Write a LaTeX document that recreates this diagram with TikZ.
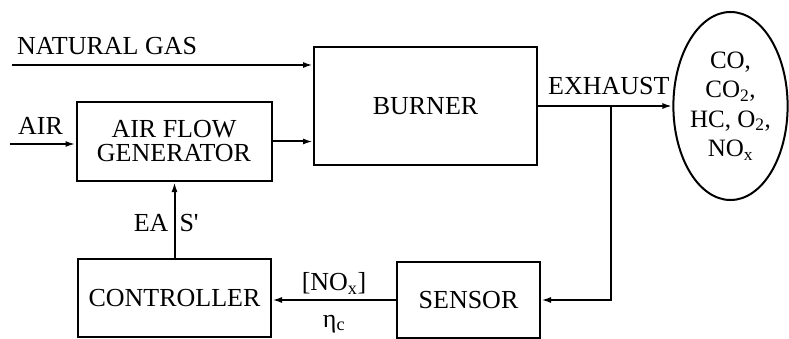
\documentclass[tikz,border=0pt]{standalone}
\usepackage{fontspec}
\setmainfont{Liberation Serif}
\usetikzlibrary{arrows.meta,calc,shapes.geometric}
\newcommand{\blockfont}{\fontsize{26}{24}\selectfont}

\begin{document}
\begin{tikzpicture}[x=1pt, y=-1pt,
  box/.style={draw, line width=2pt, inner sep=0pt, align=center, font=\blockfont},
  lbl/.style={inner sep=0pt, font=\blockfont},
  flow/.style={-{Latex[length=10pt,width=6pt]}, line width=2pt}]
  \useasboundingbox (0,0) rectangle (789,339);
  \node[box, minimum width=223pt, minimum height=118pt] (burner) at (425.5,106) {BURNER};
  \node[box, minimum width=195pt, minimum height=79pt] (afg) at (174,141.5) {AIR FLOW\\GENERATOR};
  \node[box, minimum width=193pt, minimum height=78pt] (ctrl) at (174.5,298) {CONTROLLER};
  \node[box, minimum width=143pt, minimum height=76pt] (sensor) at (468.5,300) {SENSOR};
  \node[ellipse, draw, line width=2pt, inner sep=0pt, minimum width=113pt, minimum height=188pt,
        align=center, font=\fontsize{25}{29.5}\selectfont] (gases) at (730.5,106)
        {CO,\\CO\textsubscript{2},\\HC, O\textsubscript{2},\\NO\textsubscript{x}};
  \node[lbl, anchor=west] (gaslbl) at (17,46) {NATURAL GAS};
  \node[lbl, anchor=west] (airlbl) at (18,126) {AIR};
  \node[lbl, anchor=west] (exhlbl) at (548,86) {EXHAUST};
  \coordinate (gasin) at (12,65);
  \coordinate (airin) at (10,144);
  \path (burner.east) -- (gases.west) coordinate[pos=0.54] (tap);
  % inputs
  \draw[flow] (gasin) -- (gasin -| burner.west);
  \draw[flow] (airin) -- (afg.west |- airin);
  \draw[flow] (afg.east) -- (afg.east -| burner.west);
  % exhaust and feedback loop
  \draw[flow] (burner.east) -- (gases.west);
  \draw[flow] (tap) |- (sensor.east);
  \draw[flow] (sensor.west) -- node[above, lbl, yshift=5pt] {[NO\textsubscript{x}]}
    node[below, lbl, yshift=-14pt] {η\textsubscript{c}} (sensor.west -| ctrl.east);
  \draw[flow] (ctrl.north) -- node[left, lbl, xshift=-5pt, yshift=-3pt] {EA}
    node[right, lbl, xshift=4pt, yshift=-3pt] {S\textquotesingle} (ctrl.north |- afg.south);
\end{tikzpicture}
\end{document}
